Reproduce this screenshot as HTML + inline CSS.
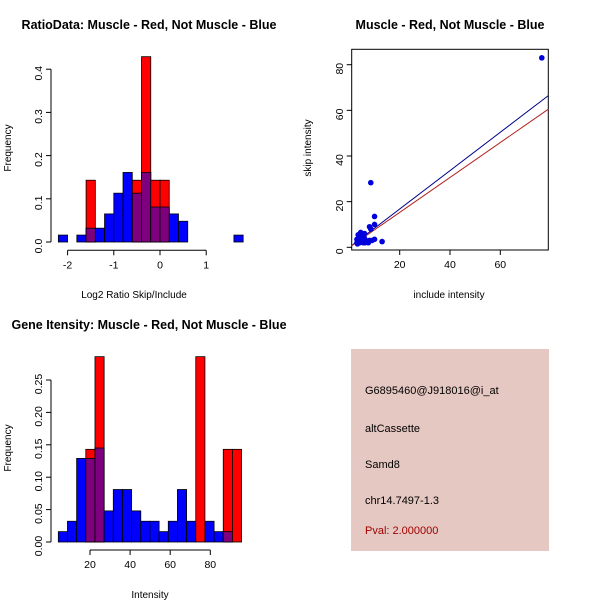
<!DOCTYPE html>
<html><head><meta charset="utf-8"><style>
body{margin:0;background:#fff}
svg{display:block;font-family:"Liberation Sans",sans-serif}
</style></head><body>
<svg id="c" width="600" height="600" xmlns="http://www.w3.org/2000/svg">
<rect width="600" height="600" fill="#fff"/>
</svg>
<script>
// ratio histogram data (bins from -2.2 width 0.2)
const ratioBlue=[0.016,0,0.016,0.032,0.032,0.065,0.113,0.161,0.113,0.161,0.081,0.081,0.065,0.048,0,0,0,0,0,0.016];
const ratioRed=[0,0,0,0.143,0,0,0,0,0.143,0.429,0.143,0.143,0,0,0,0,0,0,0,0];
const ratioXTicks=[-2,-1,0,1];
const ratioYTicks=[0,0.1,0.2,0.3,0.4];
// intensity histogram data (bins from 4.2 width 4.57)
const intBlue=[0.016,0.032,0.129,0.129,0.145,0.048,0.081,0.081,0.048,0.032,0.032,0.016,0.032,0.081,0.032,0,0.032,0.016,0.016,0];
const intRed=[0,0,0,0.143,0.286,0,0,0,0,0,0,0,0,0,0,0.286,0,0,0.143,0.143];
const intXTicks=[20,40,60,80];
const intYTicks=[0,0.05,0.10,0.15,0.20,0.25];
// scatter data
const incl=[76.5,8.5,10,10,8,8.5,13,10,3,3.5,4,4.5,5,5.5,6,4,5,3.5,6.5,7,4.5,5,6,3,4,5.5,7.5,8,3.2,4.2,5.2,6.2,9];
const skip=[83,28.3,13.5,10,9,8,2.5,3.5,2,3,4,5,6,5,4,2.5,3,5.5,3,2.5,6.5,4.5,6,3.5,2,2,2,3,1.5,4,3,2,3];
const blueSlope=0.84, redSlope=0.765;
const scXTicks=[20,40,60], scYTicks=[0,20,40,60,80];

const S=document.getElementById('c');const NS='http://www.w3.org/2000/svg';
function el(t,a,txt){const e=document.createElementNS(NS,t);for(const k in a)e.setAttribute(k,a[k]);if(txt!==undefined)e.textContent=txt;S.appendChild(e);return e;}
function txt(x,y,s,o){o=o||{};const e=el('text',{x:x,y:y,'font-size':o.size||11,'text-anchor':o.anchor||'middle',fill:o.fill||'#000','font-weight':o.bold?'bold':'normal'},s);if(o.rot)e.setAttribute('transform','rotate(-90 '+x+' '+y+')');return e;}

function hist(blue,red,x0,w,sx,sy,yAxisX,xAxisY,xt,yt,ytf,name){
  for(let i=0;i<blue.length;i++){
    const a=x0+i*w,b=a+w;
    const X=sx(a),W=sx(b)-sx(a);
    const bl=blue[i],rd=red[i],mn=Math.min(bl,rd);
    if(bl>0){const r=el('rect',{x:X,y:sy(bl),width:W,height:sy(0)-sy(bl),fill:'#0000ff',stroke:'#000','stroke-width':0.8});
      }
    if(rd>0){const r=el('rect',{x:X,y:sy(rd),width:W,height:sy(0)-sy(rd),fill:'#ff0000',stroke:'#000','stroke-width':0.8});
      }
    if(mn>0){const r=el('rect',{x:X,y:sy(mn),width:W,height:sy(0)-sy(mn),fill:'#7f007f',stroke:'#000','stroke-width':0.8});
      }
  }
  el('line',{x1:yAxisX,x2:yAxisX,y1:sy(yt[0]),y2:sy(yt[yt.length-1]),stroke:'#000'});
  yt.forEach(v=>{el('line',{x1:yAxisX-5,x2:yAxisX,y1:sy(v),y2:sy(v),stroke:'#000'});txt(yAxisX-9,sy(v)+4,ytf(v),{rot:1,size:10.5});});
  el('line',{x1:sx(xt[0]),x2:sx(xt[xt.length-1]),y1:xAxisY,y2:xAxisY,stroke:'#000'});
  xt.forEach(v=>{el('line',{x1:sx(v),x2:sx(v),y1:xAxisY,y2:xAxisY+5,stroke:'#000'});txt(sx(v),xAxisY+18,String(v),{size:10.5});});
}
// plot 1
const sx1=v=>160+v*46.2, sy1=v=>242-v*432;
hist(ratioBlue,ratioRed,-2.2,0.2,sx1,sy1,51,250.3,ratioXTicks,ratioYTicks,v=>v.toFixed(1),'ratio');
txt(149,29,'RatioData: Muscle - Red, Not Muscle - Blue',{bold:1,size:12.5});
txt(134,298,'Log2 Ratio Skip/Include',{size:10});
txt(11,148,'Frequency',{rot:1,size:10});
// plot 2
const sx2=v=>90+(v-20)*2.005, sy2=v=>542-v*648;
hist(intBlue,intRed,4.2,4.57,sx2,sy2,51,550,intXTicks,intYTicks,v=>v.toFixed(2),'intensity');
txt(149,329,'Gene Itensity: Muscle - Red, Not Muscle - Blue',{bold:1,size:12.5});
txt(150,598,'Intensity',{size:10});
txt(11,448,'Frequency',{rot:1,size:10});
// plot 3
const sx3=v=>349.4+v*2.515, sy3=v=>247.3-v*2.2825;
el('rect',{x:351.7,y:49.3,width:196.6,height:200.7,fill:'none',stroke:'#000'});
scXTicks.forEach(v=>{el('line',{x1:sx3(v),x2:sx3(v),y1:250,y2:255,stroke:'#000'});txt(sx3(v),268,String(v),{size:10.5});});
scYTicks.forEach(v=>{el('line',{x1:346.7,x2:351.7,y1:sy3(v),y2:sy3(v),stroke:'#000'});txt(343,sy3(v)+4,String(v),{rot:1,size:10.5});});
const xl=0.9,xr=79.1;
const bline=el('line',{x1:sx3(xl),y1:sy3(blueSlope*xl),x2:sx3(xr),y2:sy3(blueSlope*xr),stroke:'#00008b','stroke-width':1});

const rline=el('line',{x1:sx3(xl),y1:sy3(redSlope*xl),x2:sx3(xr),y2:sy3(redSlope*xr),stroke:'#b22222','stroke-width':1});

for(let i=0;i<incl.length;i++){
  const p=el('circle',{cx:sx3(incl[i]),cy:sy3(skip[i]),r:2.8,fill:'#0000dd'});
  
  
}
txt(450,29,'Muscle - Red, Not Muscle - Blue',{bold:1,size:12.5});
txt(449,298,'include intensity',{size:10});
txt(311,148,'skip intensity',{rot:1,size:10});
</script>
<div style="position:absolute;left:351px;top:349px;width:198px;height:202px;background:#e6c8c2;font-family:'Liberation Sans',sans-serif;font-size:11px">
<div style="position:absolute;left:14px;top:36px">G6895460@J918016@i_at</div>
<div style="position:absolute;left:14px;top:74px">altCassette</div>
<div style="position:absolute;left:14px;top:110px">Samd8</div>
<div style="position:absolute;left:14px;top:146px">chr14.7497-1.3</div>
<div style="position:absolute;left:14px;top:176px;color:#a00000">Pval: 2.000000</div>
</div>
</body></html>
